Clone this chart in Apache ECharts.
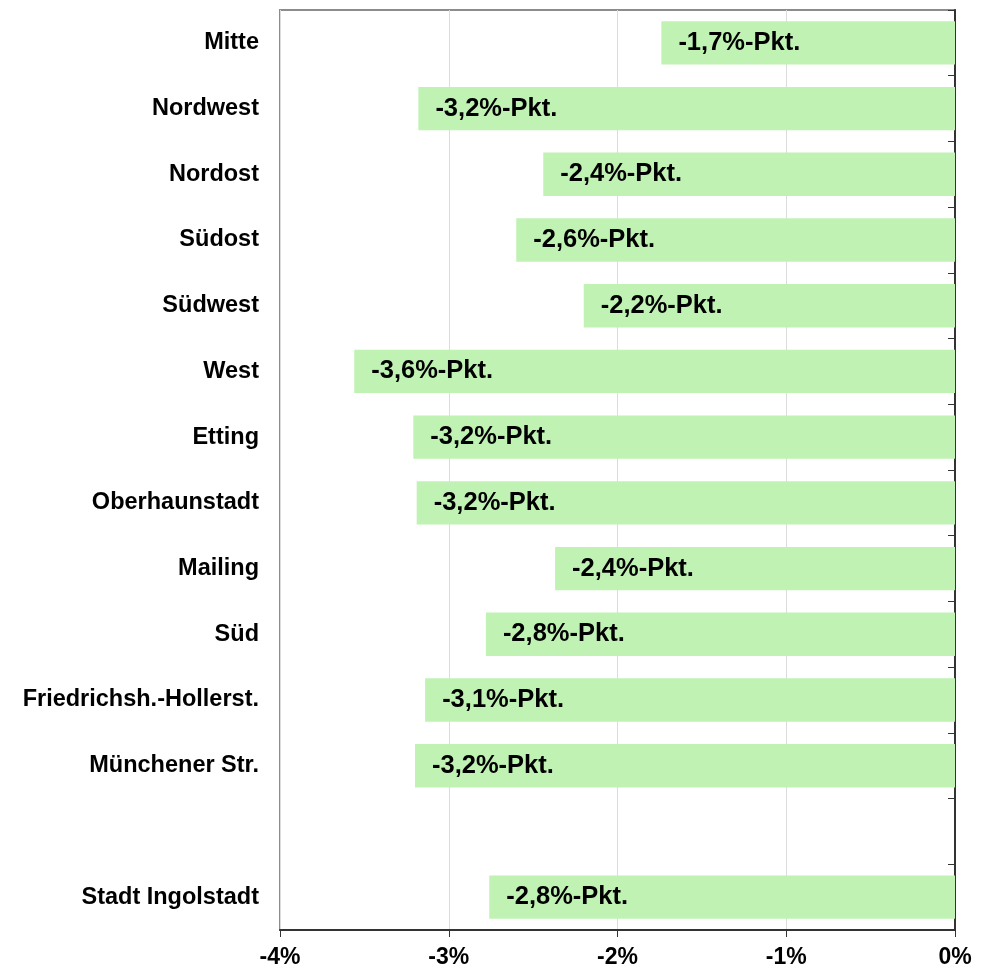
<!DOCTYPE html>
<html>
<head>
<meta charset="UTF-8">
<title>Echarts</title>
<script src="https://cdn.jsdelivr.net/npm/echarts@6/dist/echarts.min.js"></script>
<style>
  html, body { margin: 0; padding: 0; background: #fff; }
</style>
</head>
<body>
    <div id="main" style="width: 998px; height: 972px;"></div>
    <script>
        // Bezirke, von oben nach unten (Leerzeile vor der Gesamtstadt)
        var categories = ['Mitte', 'Nordwest', 'Nordost', 'Südost', 'Südwest', 'West', 'Etting',
            'Oberhaunstadt', 'Mailing', 'Süd', 'Friedrichsh.-Hollerst.', 'Münchener Str.', '', 'Stadt Ingolstadt'];
        // Veränderung in %-Punkten
        var values = [-1.74, -3.18, -2.44, -2.60, -2.20, -3.56, -3.21,
            -3.19, -2.37, -2.78, -3.14, -3.20, null, -2.76];
        var xTicks = [-4, -3, -2, -1, 0];

        var font = '"Liberation Sans", Arial, sans-serif';
        var myChart = echarts.init(document.getElementById('main'));

        var option = {
            animation: false,
            grid: {
                left: 280, right: 43, top: 10, bottom: 42,
                show: true, borderColor: '#8c8c8c', borderWidth: 2
            },
            xAxis: {
                type: 'value',
                min: xTicks[0],
                max: xTicks[xTicks.length - 1],
                interval: 1,
                axisLine: { show: true, onZero: false, lineStyle: { color: '#333', width: 2 } },
                axisTick: { show: true, length: 7, lineStyle: { color: '#333', width: 1 } },
                axisLabel: {
                    margin: 16,
                    fontFamily: font, fontWeight: 'bold', fontSize: 23, color: '#000',
                    formatter: function (v) { return v + '%'; }
                },
                splitLine: { show: true, lineStyle: { color: '#dcdcdc', width: 1 } }
            },
            yAxis: [{
                type: 'category',
                data: categories,
                inverse: true,
                position: 'left',
                axisLine: { show: false },
                axisTick: { show: false },
                axisLabel: {
                    margin: 21,
                    fontFamily: font, fontWeight: 'bold', fontSize: 23.5, color: '#000'
                }
            }, {
                type: 'category',
                data: categories,
                inverse: true,
                position: 'right',
                axisLine: { show: true, lineStyle: { color: '#333', width: 2 } },
                axisTick: { show: true, inside: true, length: 7, lineStyle: { color: '#333', width: 1 } },
                axisLabel: { show: false }
            }],
            series: [{
                name: 'Veränderung',
                type: 'bar',
                data: values,
                barCategoryGap: '34%',
                itemStyle: { color: '#c0f2b4' },
                label: {
                    show: true,
                    position: 'insideLeft',
                    distance: 17,
                    fontFamily: font, fontWeight: 'bold', fontSize: 25.5, color: '#000',
                    formatter: function (p) {
                        return p.value.toFixed(1).replace('.', ',') + '%-Pkt.';
                    }
                }
            }]
        };

        myChart.setOption(option);
    </script>
</body>
</html>
